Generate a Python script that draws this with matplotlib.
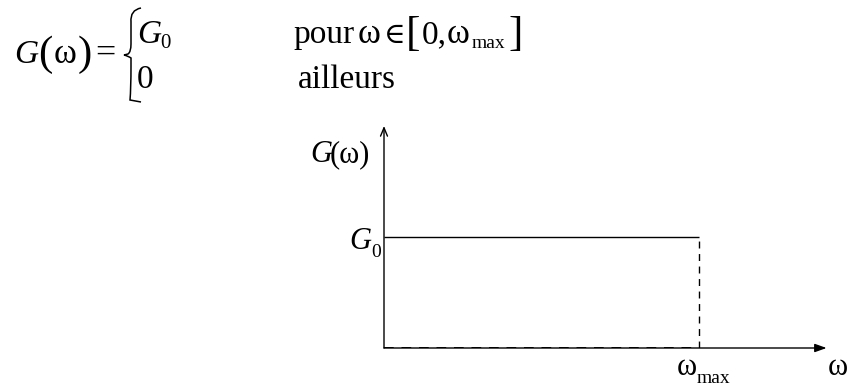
import matplotlib
matplotlib.use("Agg")
import matplotlib.pyplot as plt
from matplotlib.path import Path
from matplotlib.patches import PathPatch

plt.rcParams['font.family'] = ['Liberation Serif', 'DejaVu Serif']

# ideal low-pass spectrum
G0 = 1.0
w_max = 1.0
w_plot = [0.0, w_max]
g_plot = [G0, G0]
x_end = 1.405
y_end = 2.0

W, H = 848, 389
fig = plt.figure(figsize=(W / 100, H / 100), dpi=100)

# overlay in pixel units for the formula
eq = fig.add_axes([0, 0, 1, 1])
eq.set_xlim(0, W)
eq.set_ylim(H, 0)
eq.axis('off')

fs = 24
sub = 15
def t(x, y, s, size=fs, style='normal'):
    eq.text(x, y, s, fontsize=size, fontstyle=style, va='baseline', ha='left')

t(14, 63, 'G', style='italic')
t(38, 65, '(', size=31)
t(54, 63, 'ω', size=25)
t(78, 65, ')', size=31)
t(95, 63, '=', size=26)
t(137, 43, 'G', style='italic')
t(160, 48, '0', size=sub)
t(137, 88, '0')
t(293, 43, 'pour')
t(358, 43, 'ω', size=25)
t(384, 43, '∈', size=21)
t(406, 45, '[', size=31)
t(422, 43, '0,')
t(447, 43, 'ω', size=25)
t(472, 48, 'max', size=14)
t(508, 45, ']', size=31)
t(298, 88, 'ailleurs')

# brace
verts = [(141, 8), (130, 10), (131, 22), (131, 44), (131, 52), (128, 54), (124, 55),
         (128, 56), (131, 58), (131, 66), (131, 89), (130, 100), (141, 102)]
codes = [Path.MOVETO, Path.CURVE3, Path.CURVE3, Path.LINETO, Path.CURVE3, Path.CURVE3, Path.LINETO,
         Path.CURVE3, Path.CURVE3, Path.LINETO, Path.CURVE3, Path.CURVE3, Path.LINETO]
eq.add_patch(PathPatch(Path(verts, codes), fill=False, lw=1.1, color='black'))

# spectrum plot
px_x, px_y = 315, 111
x0, y0 = 384, 348
xl, yl = 1.45, 2.1
ax = fig.add_axes([x0 / W, (H - y0) / H, xl * px_x / W, yl * px_y / H])
ax.set_xlim(0, xl)
ax.set_ylim(0, yl)
ax.axis('off')
ax.patch.set_alpha(0)

ax.annotate('', xy=(x_end, 0), xytext=(0, 0),
            arrowprops=dict(arrowstyle='-|>,head_length=0.7,head_width=0.25', lw=1.0, color='black',
                            shrinkA=0, shrinkB=0))
ax.annotate('', xy=(0, y_end), xytext=(0, 0),
            arrowprops=dict(arrowstyle='->,head_length=0.6,head_width=0.25', lw=1.0, color='black',
                            shrinkA=0, shrinkB=0))
ax.plot(w_plot, g_plot, color='black', lw=1.0, solid_capstyle='butt')
ax.plot([w_max, w_max], [0, G0], color='black', lw=1.0, dashes=(5, 4))
ax.plot([0, w_max], [0, 0], color='black', lw=1.4, dashes=(5, 4))

def lab(x, y, dx, dy, s, size=22, style='normal'):
    ax.annotate(s, xy=(x, y), xytext=(dx, dy), textcoords='offset pixels',
                fontsize=size, fontstyle=style, va='baseline', ha='left')

lab(0, 0, -74, 186, 'G', style='italic')
lab(0, 0, -54, 186, '(ω)')
lab(0, G0, -35, -12, 'G', style='italic')
lab(0, G0, -13, -20, '0', size=14)
lab(w_max, 0, -22, -27, 'ω')
lab(w_max, 0, -2, -35, 'max', size=14)
lab(x_end, 0, 1, -27, 'ω')

fig.savefig('out.png', dpi=100)
